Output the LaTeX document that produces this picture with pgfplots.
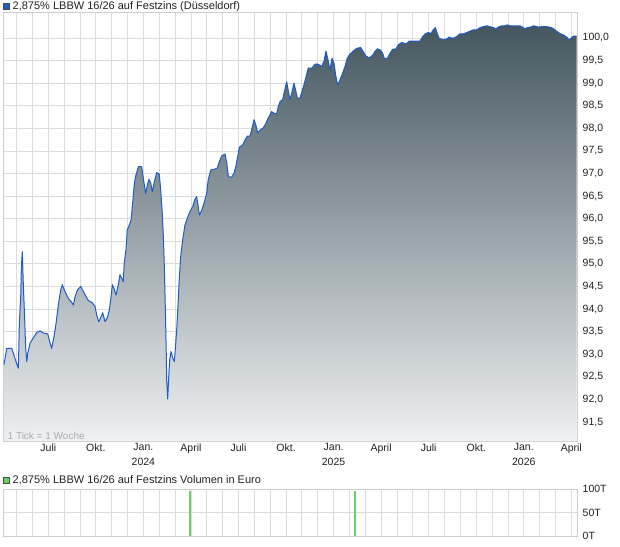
\documentclass[border=0pt]{standalone}
\usepackage{fontspec}
\setmainfont{Liberation Sans}
\usepackage{pgfplots}
\usepackage{pgfplotstable}
\pgfplotsset{compat=1.18}
\definecolor{gridc}{HTML}{DCDCDC}
\definecolor{framec}{HTML}{CFCFCF}
\definecolor{linec}{HTML}{1F5BC9}
\definecolor{topc}{HTML}{44565F}
\definecolor{botc}{HTML}{EFF1F3}
\definecolor{volc}{HTML}{66D166}
\definecolor{txt}{HTML}{222222}

% x = months since Jan 2023 (6 = Juli 2023, 12 = Jan 2024, ...), weekly closes
\pgfplotstableread{
m v
3.20 92.77
3.38 93.13
3.69 93.13
3.96 92.84
4.11 92.69
4.17 93.65
4.26 94.31
4.30 94.94
4.36 95.27
4.42 94.57
4.51 93.76
4.57 93.13
4.64 92.84
4.70 93.02
4.85 93.25
5.05 93.36
5.27 93.48
5.48 93.52
5.68 93.47
5.96 93.45
6.11 93.25
6.21 93.13
6.36 93.39
6.49 93.69
6.63 94.09
6.78 94.42
6.88 94.54
7.05 94.39
7.26 94.24
7.43 94.17
7.58 94.09
7.68 94.26
7.83 94.42
8.04 94.50
8.21 94.39
8.38 94.28
8.52 94.19
8.74 94.15
8.95 94.06
9.05 93.87
9.18 93.72
9.32 93.82
9.43 93.92
9.58 93.72
9.72 93.81
9.85 93.98
9.94 94.22
10.04 94.54
10.16 94.44
10.27 94.31
10.42 94.54
10.52 94.76
10.63 94.68
10.73 94.61
10.79 95.02
10.90 95.31
10.98 95.75
11.11 95.86
11.22 95.97
11.32 96.34
11.43 96.79
11.53 96.97
11.68 97.15
11.89 97.15
11.99 96.90
12.14 96.56
12.25 96.75
12.35 96.87
12.46 96.79
12.56 96.60
12.69 96.82
12.84 97.02
13.00 96.99
13.09 96.64
13.19 96.12
13.26 95.60
13.32 94.94
13.38 94.06
13.43 93.25
13.47 92.43
13.53 92.01
13.60 92.51
13.66 92.88
13.74 93.06
13.85 92.91
13.95 92.84
14.01 93.10
14.10 93.54
14.18 94.06
14.26 94.65
14.35 95.16
14.48 95.53
14.62 95.86
14.77 96.01
14.94 96.16
15.11 96.27
15.24 96.42
15.36 96.49
15.46 96.27
15.53 96.08
15.68 96.19
15.82 96.34
15.99 96.56
16.09 96.86
16.25 97.08
16.45 97.09
16.66 97.12
16.79 97.26
16.94 97.39
17.15 97.43
17.26 97.23
17.36 96.93
17.57 96.92
17.72 97.01
17.84 97.17
17.95 97.37
18.05 97.58
18.26 97.63
18.41 97.74
18.56 97.83
18.73 97.83
18.85 98.00
18.98 98.19
19.09 98.08
19.21 97.90
19.36 97.96
19.53 98.00
19.69 98.08
19.82 98.19
19.99 98.30
20.09 98.37
20.26 98.33
20.41 98.32
20.51 98.48
20.62 98.59
20.79 98.64
20.89 98.81
21.04 99.03
21.17 98.78
21.25 98.63
21.38 98.81
21.50 99.00
21.63 98.81
21.71 98.67
21.88 98.67
22.13 98.96
22.26 99.14
22.40 99.33
22.62 99.33
22.83 99.42
23.03 99.42
23.25 99.37
23.39 99.48
23.52 99.71
23.63 99.55
23.77 99.29
23.90 99.55
24.03 99.44
24.13 99.18
24.26 98.96
24.40 99.07
24.57 99.22
24.72 99.37
24.86 99.55
25.03 99.64
25.24 99.71
25.46 99.77
25.71 99.79
25.87 99.70
26.04 99.60
26.25 99.56
26.47 99.62
26.61 99.70
26.76 99.76
26.97 99.73
27.10 99.66
27.20 99.55
27.39 99.55
27.56 99.66
27.73 99.75
27.94 99.76
28.08 99.85
28.30 99.90
28.57 99.87
28.78 99.93
29.03 99.93
29.45 99.93
29.62 100.03
29.77 100.09
29.97 100.12
30.14 100.10
30.29 100.18
30.42 100.23
30.54 100.10
30.67 99.99
30.86 99.97
31.09 99.97
31.30 100.02
31.51 99.99
31.77 100.03
31.97 100.09
32.18 100.09
32.40 100.12
32.60 100.15
32.81 100.18
33.03 100.18
33.24 100.23
33.44 100.25
33.66 100.27
33.87 100.25
34.08 100.23
34.25 100.20
34.39 100.24
34.61 100.27
34.81 100.27
34.96 100.29
35.13 100.27
35.34 100.27
35.55 100.27
35.76 100.27
35.97 100.23
36.07 100.20
36.22 100.23
36.43 100.24
36.64 100.27
36.91 100.24
37.13 100.25
37.44 100.25
37.65 100.24
37.86 100.21
38.07 100.15
38.28 100.10
38.49 100.07
38.71 100.02
38.85 99.96
38.98 99.99
39.12 100.04
39.34 100.04
}\price

\pgfplotstableread{
m vol
14.91 96
25.35 96
}\volume

\begin{document}
\begin{tikzpicture}
\path[use as bounding box] (0pt,0pt) rectangle (620pt,546pt);

% legend of the price chart
\draw[draw=black!70, fill=linec, line width=0.6pt] (3pt,536.5pt) rectangle (9.5pt,543pt);
\node[anchor=west, inner sep=0pt, text=txt, font=\fontsize{11}{13}\selectfont] at (12.5pt,539.6pt)
  {2,875\% LBBW 16/26 auf Festzins (Düsseldorf)};

\begin{axis}[
  at={(3pt,105pt)}, anchor=south west,
  scale only axis, width=574pt, height=429pt,
  xmin=3.14, xmax=39.36, ymin=91.08, ymax=100.575,
  axis line style={framec, line width=0.8pt},
  xtick={6,9,...,39},
  xticklabels={Juli,Okt.,{Jan.\\2024},April,Juli,Okt.,{Jan.\\2025},April,Juli,Okt.,{Jan.\\2026},April},
  minor xtick={4,5,...,39},
  ytick={91.5,92,92.5,93,93.5,94,94.5,95,95.5,96,96.5,97,97.5,98,98.5,99,99.5,100},
  grid=both,
  grid style={gridc, line width=0.8pt},
  minor grid style={gridc, line width=0.8pt},
  major tick length=0pt, minor tick length=0pt,
  yticklabel pos=right,
  /pgf/number format/assume math mode=true,
  y tick label style={/pgf/number format/fixed, /pgf/number format/fixed zerofill,
    /pgf/number format/precision=1, /pgf/number format/use comma,
    anchor=west, inner sep=0pt, xshift=5.5pt, text=txt, font=\fontsize{10.5}{12}\selectfont},
  x tick label style={anchor=north, align=center, inner sep=0pt, yshift=-2.5pt, text=txt, font=\fontsize{10.5}{15}\selectfont},
]
\addplot[draw=none, top color=topc, bottom color=botc, forget plot]
  table[x=m, y=v] {\price} -- (axis cs:39.34,91.08) -- (axis cs:3.20,91.08) -- cycle;
\addplot[linec, line width=1pt, line join=round] table[x=m, y=v] {\price};
\node[anchor=south west, inner sep=0pt, xshift=4.5pt, yshift=1.5pt, text=black!33, font=\fontsize{10}{12}\selectfont]
  at (rel axis cs:0,0) {1 Tick = 1 Woche};
\end{axis}

% legend of the volume chart
\draw[draw=black!70, fill=volc, line width=0.6pt] (3pt,62.5pt) rectangle (9.5pt,69pt);
\node[anchor=west, inner sep=0pt, text=txt, font=\fontsize{11}{13}\selectfont] at (12.5pt,65.8pt)
  {2,875\% LBBW 16/26 auf Festzins Volumen in Euro};

\begin{axis}[
  at={(3pt,10pt)}, anchor=south west,
  scale only axis, width=574pt, height=47pt,
  xmin=3.14, xmax=39.36, ymin=0, ymax=100,
  axis line style={framec, line width=0.8pt},
  xtick={6,9,...,39}, xticklabels={},
  minor xtick={4,5,...,39},
  ytick={0,50,100}, yticklabels={0T,50T,100T},
  grid=both,
  grid style={gridc, line width=0.8pt},
  minor grid style={gridc, line width=0.8pt},
  major tick length=0pt, minor tick length=0pt,
  yticklabel pos=right,
  y tick label style={anchor=west, inner sep=0pt, xshift=5.5pt, text=txt, font=\fontsize{10.5}{12}\selectfont},
]
\addplot[ycomb, volc, line width=2pt] table[x=m, y=vol] {\volume};
\end{axis}
\end{tikzpicture}
\end{document}
